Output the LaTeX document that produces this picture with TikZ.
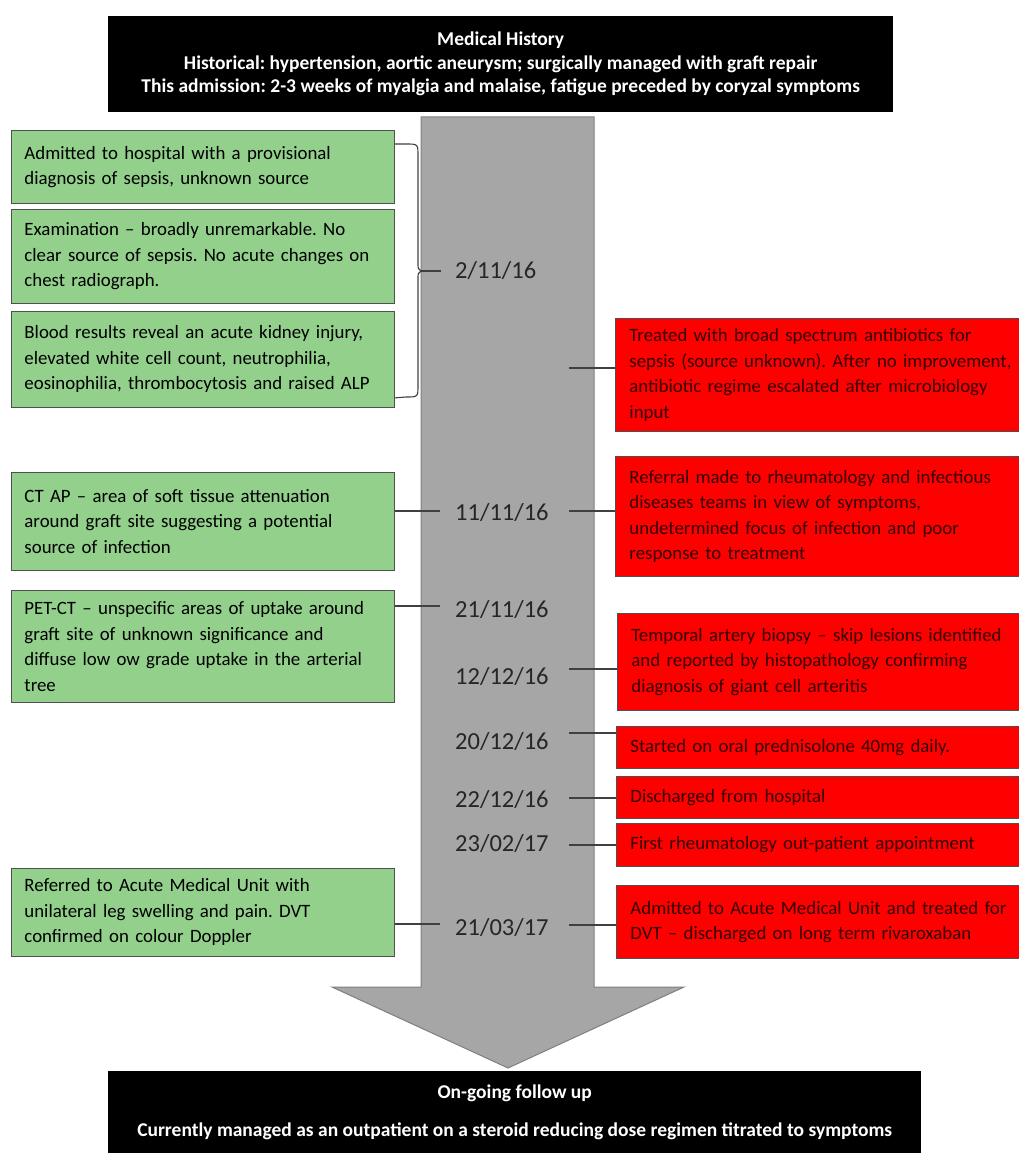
\documentclass[tikz,border=0pt]{standalone}
\usepackage{fontspec}
\setmainfont{Carlito}
\usetikzlibrary{calc}
\definecolor{gfill}{RGB}{146,208,140}
\definecolor{rfill}{RGB}{255,0,0}
\definecolor{bordc}{RGB}{80,80,80}
\definecolor{arrfill}{RGB}{166,166,166}
\definecolor{arrbord}{RGB}{127,127,127}
\definecolor{conc}{RGB}{64,64,64}
\definecolor{rtext}{RGB}{50,0,0}
\frenchspacing
\begin{document}
\begin{tikzpicture}[x=1pt,y=-1pt,
  bodyfont/.style={font=\frenchspacing\fontsize{18.85}{25.5}\selectfont},
  gbox/.style={draw=bordc, line width=0.9pt, fill=gfill, anchor=north west, inner xsep=13pt, inner ysep=0pt, align=left, text width=357pt, minimum width=383pt, bodyfont, text=black},
  rbox/.style={draw=bordc, line width=0.9pt, fill=rfill, anchor=north west, inner xsep=14pt, inner ysep=0pt, align=left, text width=400pt, minimum width=428pt, bodyfont, text=rtext},
  datelab/.style={anchor=west, inner sep=0pt, font=\fontsize{24.5}{28}\selectfont, text=black!85},
  blackbox/.style={fill=black, text=white, anchor=north west, inner sep=0pt, align=center, font=\frenchspacing\bfseries\fontsize{19.5}{23.5}\selectfont},
  conn/.style={draw=conc, line width=1.1pt}]
\useasboundingbox (0,0) rectangle (1019,1153);

% timeline arrow
\draw[fill=arrfill, draw=arrbord, line width=1pt] (421,117) -- (594,117) -- (594,987) -- (684,987) -- (508,1068) -- (332,987) -- (421,987) -- cycle;

% header and footer
\node[blackbox, minimum width=785pt, minimum height=96pt] (hist) at (108,16)
  {Medical History\\Historical: hypertension, aortic aneurysm; surgically managed with graft repair\\This admission: 2-3 weeks of myalgia and malaise, fatigue preceded by coryzal symptoms};
\node[blackbox, minimum width=813pt, minimum height=82pt] (follow) at (108,1071)
  {On-going follow up\\[15pt]Currently managed as an outpatient on a steroid reducing dose regimen titrated to symptoms};

% green boxes
\node[gbox, minimum height=73pt] (gb1) at (11,130) {Admitted to hospital with a provisional\\diagnosis of sepsis, unknown source\\[-8pt]};
\node[gbox, minimum height=94pt] (gb2) at (11,209) {Examination -- broadly unremarkable. No\\clear source of sepsis. No acute changes on\\chest radiograph.};
\node[gbox, minimum height=96pt] (gb3) at (11,311) {Blood results reveal an acute kidney injury,\\elevated white cell count, neutrophilia,\\eosinophilia, thrombocytosis and raised ALP};
\node[gbox, minimum height=98pt] (gct) at (11,472) {CT AP -- area of soft tissue attenuation\\around graft site suggesting a potential\\source of infection};
\node[gbox, minimum height=112pt] (gpet) at (11,590) {PET-CT -- unspecific areas of uptake around\\graft site of unknown significance and\\diffuse low ow grade uptake in the arterial\\tree};
\node[gbox, minimum height=88pt] (gdvt) at (11,868) {Referred to Acute Medical Unit with\\unilateral leg swelling and pain. DVT\\confirmed on colour Doppler};

% red boxes
\node[rbox, minimum height=113pt] (r1) at (615,318) {Treated with broad spectrum antibiotics for\\sepsis (source unknown). After no improvement,\\antibiotic regime escalated after microbiology\\input};
\node[rbox, minimum height=120pt] (r2) at (615,456) {Referral made to rheumatology and infectious\\diseases teams in view of symptoms,\\undetermined focus of infection and poor\\response to treatment};
\node[rbox, minimum height=97pt] (r3) at (617,613) {Temporal artery biopsy -- skip lesions identified\\and reported by histopathology confirming\\diagnosis of giant cell arteritis};
\node[rbox, minimum height=42pt] (r4) at (616,726) {Started on oral prednisolone 40mg daily.};
\node[rbox, minimum height=42pt] (r5) at (616,776) {Discharged from hospital};
\node[rbox, minimum height=43pt] (r6) at (616,823) {First rheumatology out-patient appointment};
\node[rbox, minimum height=73pt] (r7) at (616,885) {Admitted to Acute Medical Unit and treated for\\DVT -- discharged on long term rivaroxaban};

% dates
\node[datelab] (d1) at (455,271) {2/11/16};
\node[datelab] (d2) at (455,513) {11/11/16};
\node[datelab] (d3) at (455,610) {21/11/16};
\node[datelab] (d4) at (455,677) {12/12/16};
\node[datelab] (d5) at (455,742) {20/12/16};
\node[datelab] (d6) at (455,800) {22/12/16};
\node[datelab] (d7) at (455,844) {23/02/17};
\node[datelab] (d8) at (455,928) {21/03/17};

% brace
\coordinate (btop) at ($(gb1.north east)+(0,14)$);
\coordinate (bbot) at ($(gb3.south east)+(0,-10)$);
\coordinate (btip) at (421,271);
\coordinate (bend) at (441,271);
\draw[conn] (btop) -- (406,144) .. controls (418,144) .. (418,156) -- (418,262) .. controls (418,269) .. (btip) .. controls (418,273) .. (418,280) -- (418,385) .. controls (418,397) .. (406,397) -- (bbot);
\draw[conn] (btip) -- (bend);

% left connectors
\coordinate (lct) at (440,511);
\coordinate (lpet) at (440,606);
\coordinate (ldvt) at (440,924);
\draw[conn] (gct.east |- lct) -- (lct);
\draw[conn] (gpet.east |- lpet) -- (lpet);
\draw[conn] (gdvt.east |- ldvt) -- (ldvt);

% right connectors
\coordinate (c1) at (569,368);
\coordinate (c2) at (569,511);
\coordinate (c3) at (569,669);
\coordinate (c4) at (569,733);
\coordinate (c5) at (569,798);
\coordinate (c6) at (569,845);
\coordinate (c7) at (569,925);
\draw[conn] (c1) -- (r1.west |- c1);
\draw[conn] (c2) -- (r2.west |- c2);
\draw[conn] (c3) -- (r3.west |- c3);
\draw[conn] (c4) -- (r4.west |- c4);
\draw[conn] (c5) -- (r5.west |- c5);
\draw[conn] (c6) -- (r6.west |- c6);
\draw[conn] (c7) -- (r7.west |- c7);
\end{tikzpicture}
\end{document}
